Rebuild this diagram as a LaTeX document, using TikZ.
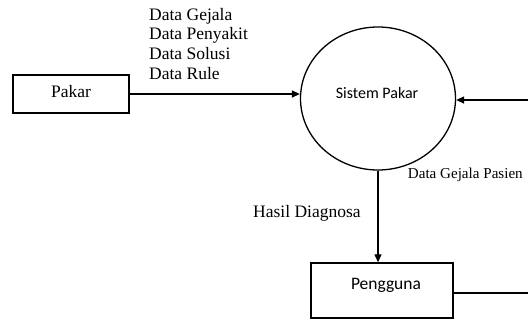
\documentclass[tikz,border=0pt]{standalone}
\usepackage{fontspec}
\setmainfont{Liberation Serif}
\newfontfamily\calib{Carlito}
\usetikzlibrary{arrows.meta,shapes.geometric}
\begin{document}
\begin{tikzpicture}[x=1pt,y=-1pt,
  box/.style={draw,line width=1.4pt,inner sep=0pt},
  conn/.style={line width=1.3pt},
  arr/.style={conn,-{Triangle[length=8pt,width=7pt]}},
  lbl/.style={font=\fontsize{17.5}{20}\selectfont,inner sep=0pt,anchor=base west},
  txt/.style={inner sep=0pt}]
\useasboundingbox (0,0) rectangle (528,324);
% Pakar
\node[box,minimum width=116pt,minimum height=38pt] (p) at (71,94) {};
\node[txt,font=\fontsize{17.5}{20}\selectfont] (pt) at (71,92) {Pakar};
% Sistem Pakar
\node[draw,ellipse,line width=1.3pt,minimum width=155pt,minimum height=143pt,inner sep=0pt] (c) at (378,98.5) {};
\node[txt,font=\calib\fontsize{16}{18}\selectfont] (ct) at (377,93) {Sistem Pakar};
% Pengguna
\node[box,minimum width=142pt,minimum height=55pt] (g) at (382,290.5) {};
\node[txt,font=\calib\fontsize{17.5}{19}\selectfont] (gt) at (386,285) {Pengguna};
% labels
\node[lbl] (l1) at (149,20) {Data Gejala};
\node[lbl] (l2) at (149,39.7) {Data Penyakit};
\node[lbl] (l3) at (149,59.3) {Data Solusi};
\node[lbl] (l4) at (149,79) {Data Rule};
\node[lbl] (l5) at (253,217) {Hasil Diagnosa};
\node[lbl,font=\fontsize{15.1}{18}\selectfont] (l6) at (407.7,178) {Data Gejala Pasien};
% connectors
\coordinate (r1) at (530,100);
\coordinate (r2) at (530,293);
\draw[arr] (p.east) -- (p.east -| c.west);
\draw[arr] (r1) -- (r1 -| c.east);
\draw[conn] (g.east |- r2) -- (r2);
\draw[arr] (c.south) -- (c.south |- g.north);
\end{tikzpicture}
\end{document}
